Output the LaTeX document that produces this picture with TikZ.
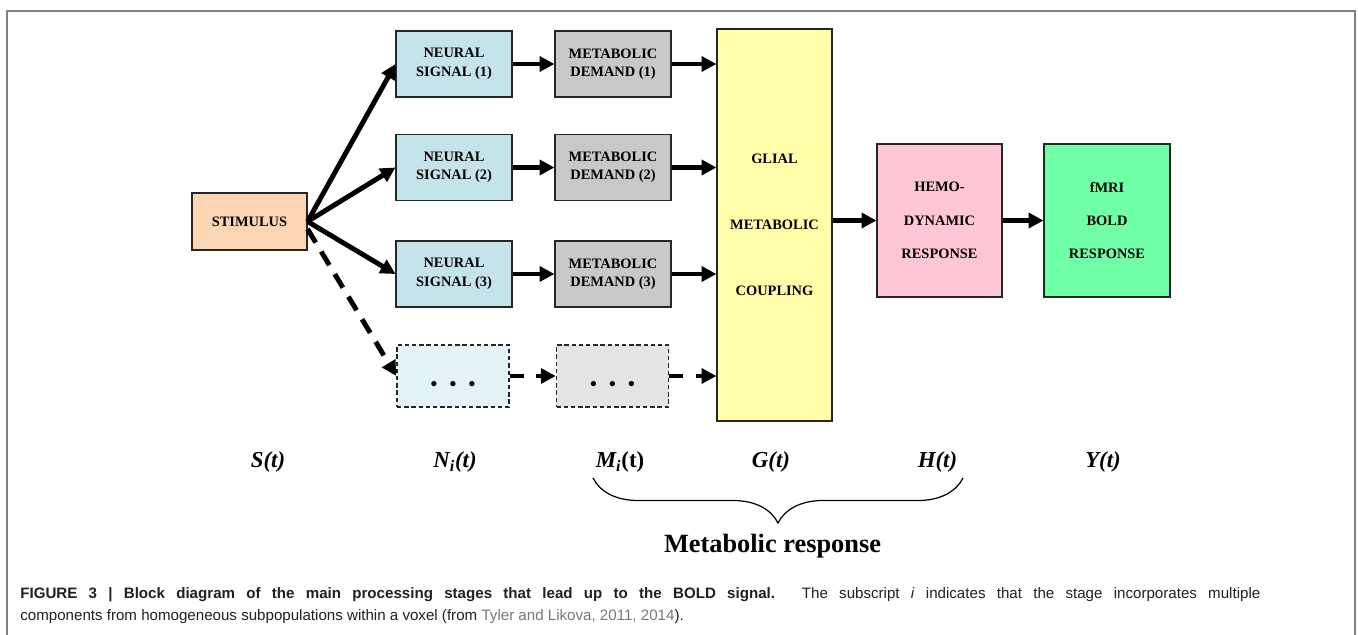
\documentclass[tikz,border=0pt]{standalone}
\usepackage{fontspec}
\setmainfont{Liberation Serif}
\newfontfamily\capfont{Liberation Sans}
\usepackage{tikz}
\usetikzlibrary{arrows.meta,positioning,calc,decorations.pathreplacing}
\usepackage{xcolor}
\definecolor{stimpeach}{RGB}{252,213,181}
\definecolor{neuralblue}{RGB}{196,228,234}
\definecolor{demandgray}{RGB}{200,200,200}
\definecolor{glialyellow}{RGB}{255,255,170}
\definecolor{hemopink}{RGB}{255,199,214}
\definecolor{boldgreen}{RGB}{112,255,166}
\definecolor{framegray}{RGB}{128,128,128}
\definecolor{captext}{RGB}{35,31,32}
\definecolor{citegray}{RGB}{120,120,120}

\begin{document}
\begin{tikzpicture}[
    stage/.style={draw=black!85, line width=0.6pt, minimum width=2.32cm, minimum height=1.32cm,
        align=center, inner sep=0pt, font=\fontsize{8.2}{10.5}\selectfont\bfseries},
    ghost/.style={stage, dash pattern=on 2.5pt off 1.6pt, line width=0.8pt,
        minimum width=2.24cm, minimum height=1.24cm, text height=16pt, text depth=0pt},
    flow/.style={line width=2.8pt, -{Triangle[length=8.5pt,width=8.5pt]}},
    signal/.style={font=\fontsize{13}{15}\selectfont\bfseries\itshape}
]
    \useasboundingbox (0,0) rectangle (27.16,-12.7);

    % Frame round the figure
    \draw[framegray, line width=1pt] (0.14,-12.7) -- (0.14,-0.22) -- (27.1,-0.22) -- (27.1,-12.7);

    % Stimulus
    \node[stage, fill=stimpeach, minimum width=2.3cm, minimum height=1.14cm] (stim) at (4.99,-4.43) {STIMULUS};

    % Neural signals
    \node[stage, fill=neuralblue] (neu1) at (9.08,-1.28) {NEURAL\\SIGNAL (1)};
    \node[stage, fill=neuralblue] (neu2) at (9.08,-3.35) {NEURAL\\SIGNAL (2)};
    \node[stage, fill=neuralblue] (neu3) at (9.08,-5.48) {NEURAL\\SIGNAL (3)};
    \node[ghost, fill=neuralblue!45] (neu4) at (9.06,-7.52)
        {\fontsize{11}{11}\selectfont\textbullet\hspace{7pt}\textbullet\hspace{7pt}\textbullet};

    % Metabolic demands
    \node[stage, fill=demandgray] (met1) at (12.26,-1.28) {METABOLIC\\DEMAND (1)};
    \node[stage, fill=demandgray] (met2) at (12.26,-3.35) {METABOLIC\\DEMAND (2)};
    \node[stage, fill=demandgray] (met3) at (12.26,-5.48) {METABOLIC\\DEMAND (3)};
    \node[ghost, fill=demandgray!50] (met4) at (12.25,-7.52)
        {\fontsize{11}{11}\selectfont\textbullet\hspace{7pt}\textbullet\hspace{7pt}\textbullet};

    % Glial coupling, hemodynamics, BOLD
    \node[stage, fill=glialyellow, minimum width=2.3cm, minimum height=7.84cm,
        font=\fontsize{8.2}{37.4}\selectfont\bfseries] (glial) at (15.49,-4.5) {GLIAL\\METABOLIC\\COUPLING};
    \node[stage, fill=hemopink, minimum width=2.5cm, minimum height=3.06cm,
        font=\fontsize{8.2}{19}\selectfont\bfseries] (hemo) at (18.79,-4.41) {HEMO-\\DYNAMIC\\RESPONSE};
    \node[stage, fill=boldgreen, minimum width=2.52cm, minimum height=3.06cm,
        font=\fontsize{8.2}{19}\selectfont\bfseries] (fmri) at (22.14,-4.41) {fMRI\\BOLD\\RESPONSE};

    % Arrows
    \draw[flow] (stim.east) -- (neu1.west);
    \draw[flow] (stim.east) -- (neu2.west);
    \draw[flow] (stim.east) -- (neu3.west);
    \draw[flow, dash pattern=on 9pt off 6pt] ([yshift=-0.15cm]stim.east) -- (neu4.west);
    \draw[flow] (neu1) -- (met1);
    \draw[flow] (neu2) -- (met2);
    \draw[flow] (neu3) -- (met3);
    \draw[flow, dash pattern=on 8pt off 7pt] (neu4) -- (met4);
    \draw[flow] (met1) -- (met1 -| glial.west);
    \draw[flow] (met2) -- (met2 -| glial.west);
    \draw[flow] (met3) -- (met3 -| glial.west);
    \draw[flow, dash pattern=on 8pt off 7pt] (met4) -- (met4 -| glial.west);
    \draw[flow] (glial.east |- hemo.west) -- (hemo);
    \draw[flow] (hemo) -- (fmri);

    % Signals
    \node[signal] (slab) at (5.36,-9.24) {S(t)};
    \node[signal] (nlab) at (9.1,-9.24) {N\textsubscript{i}(t)};
    \node[signal] (mlab) at (12.4,-9.24) {M\textsubscript{i}\textup{(t)}};
    \node[signal] (glab) at (15.42,-9.24) {G(t)};
    \node[signal] (hlab) at (18.75,-9.24) {H(t)};
    \node[signal] (ylab) at (22.06,-9.24) {Y(t)};

    % Brace
    \coordinate (bleft) at (11.86,-9.56);
    \coordinate (bright) at (19.26,-9.56);
    \draw[decorate, decoration={brace, mirror, amplitude=0.9cm}, line width=0.7pt] (bleft) -- (bright);
    \node[font=\fontsize{15}{17}\selectfont\bfseries] (metresp) at (15.45,-10.92) {Metabolic response};

    % Caption
    \node[anchor=base west, inner sep=0pt, text=captext, font=\capfont\fontsize{8.6}{10.5}\selectfont] (cap1) at (0.4,-11.96)
        {\makebox[24.8cm][s]{\textbf{FIGURE 3 | Block diagram of the main processing stages that lead up to the BOLD signal.} The subscript \textit{i} indicates that the stage incorporates multiple}};
    \node[anchor=base west, inner sep=0pt, text=captext, font=\capfont\fontsize{8.6}{10.5}\selectfont] (cap2) at (0.4,-12.4)
        {components from homogeneous subpopulations within a voxel (from \textcolor{citegray}{Tyler and Likova, 2011, 2014}).};
\end{tikzpicture}
\end{document}
